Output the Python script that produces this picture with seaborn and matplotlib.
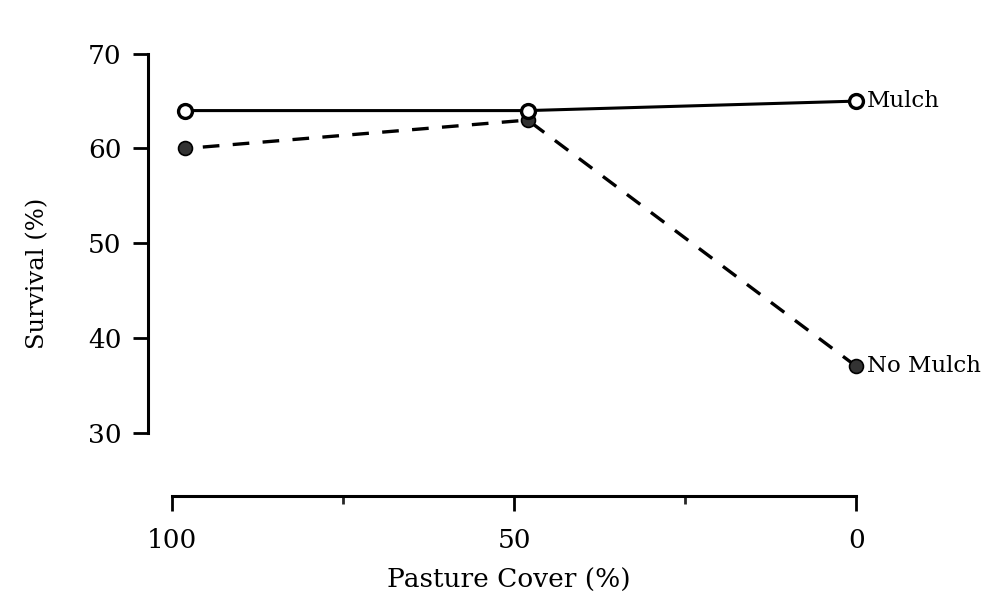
import matplotlib
matplotlib.use("Agg")
import matplotlib.pyplot as plt
import seaborn as sns
import pandas as pd
from matplotlib.ticker import MultipleLocator

# data
pasture_cover = [98, 48, 0]
mulch = [64, 64, 65]
no_mulch = [60, 63, 37]

df = pd.DataFrame({
    "cover": pasture_cover * 2,
    "survival": mulch + no_mulch,
    "treatment": ["Mulch"] * 3 + ["No Mulch"] * 3,
})

sns.set_theme(style="ticks")
plt.rcParams["font.family"] = ["DejaVu Serif"]

fig = plt.figure(figsize=(9.92, 5.92), dpi=100)
ax = fig.add_axes([0.149, 0.162, 0.728, 0.752])

# no mulch: dashed, filled markers
sub = df[df.treatment == "No Mulch"]
sns.lineplot(data=sub, x="cover", y="survival", ax=ax, color="black",
             lw=2.4, marker="o", markersize=10, markerfacecolor="#333333",
             markeredgecolor="black", markeredgewidth=1.2,
             linestyle=(0, (5, 4)), zorder=2)

# mulch: solid, open markers
sub = df[df.treatment == "Mulch"]
sns.lineplot(data=sub, x="cover", y="survival", ax=ax, color="black",
             lw=2.2, marker="o", markersize=10, markerfacecolor="white",
             markeredgecolor="black", markeredgewidth=2.4, zorder=3)

# end labels
ax.text(pasture_cover[-1] - 1.5, mulch[-1], "Mulch", va="center",
        ha="left", fontsize=16.5, color="black")
ax.text(pasture_cover[-1] - 1.5, no_mulch[-1], "No Mulch", va="center",
        ha="left", fontsize=16.5, color="black")

ax.set_xlim(103.5, -2)
ax.set_ylim(23.3, 70.3)
ax.set_xticks([100, 50, 0])
ax.xaxis.set_minor_locator(MultipleLocator(25))
ax.set_yticks([30, 40, 50, 60, 70])

for s in ["top", "right"]:
    ax.spines[s].set_visible(False)
ax.spines["left"].set_bounds(30, 70)
ax.spines["bottom"].set_bounds(0, 100)
ax.spines["left"].set_linewidth(2.2)
ax.spines["bottom"].set_linewidth(2.2)
ax.spines["left"].set_color("black")
ax.spines["bottom"].set_color("black")

ax.tick_params(axis="both", colors="black")
ax.tick_params(axis="y", length=11, width=2, labelsize=19, pad=8)
ax.tick_params(axis="x", which="major", length=11, width=2,
               labelsize=19, pad=12)
ax.tick_params(axis="x", which="minor", length=6, width=2)

ax.set_xlabel("Pasture Cover (%)", fontsize=19, labelpad=11, color="black")
ax.set_ylabel("Survival (%)", fontsize=17.5, labelpad=28, color="black")

fig.savefig("out.png", dpi=100)
